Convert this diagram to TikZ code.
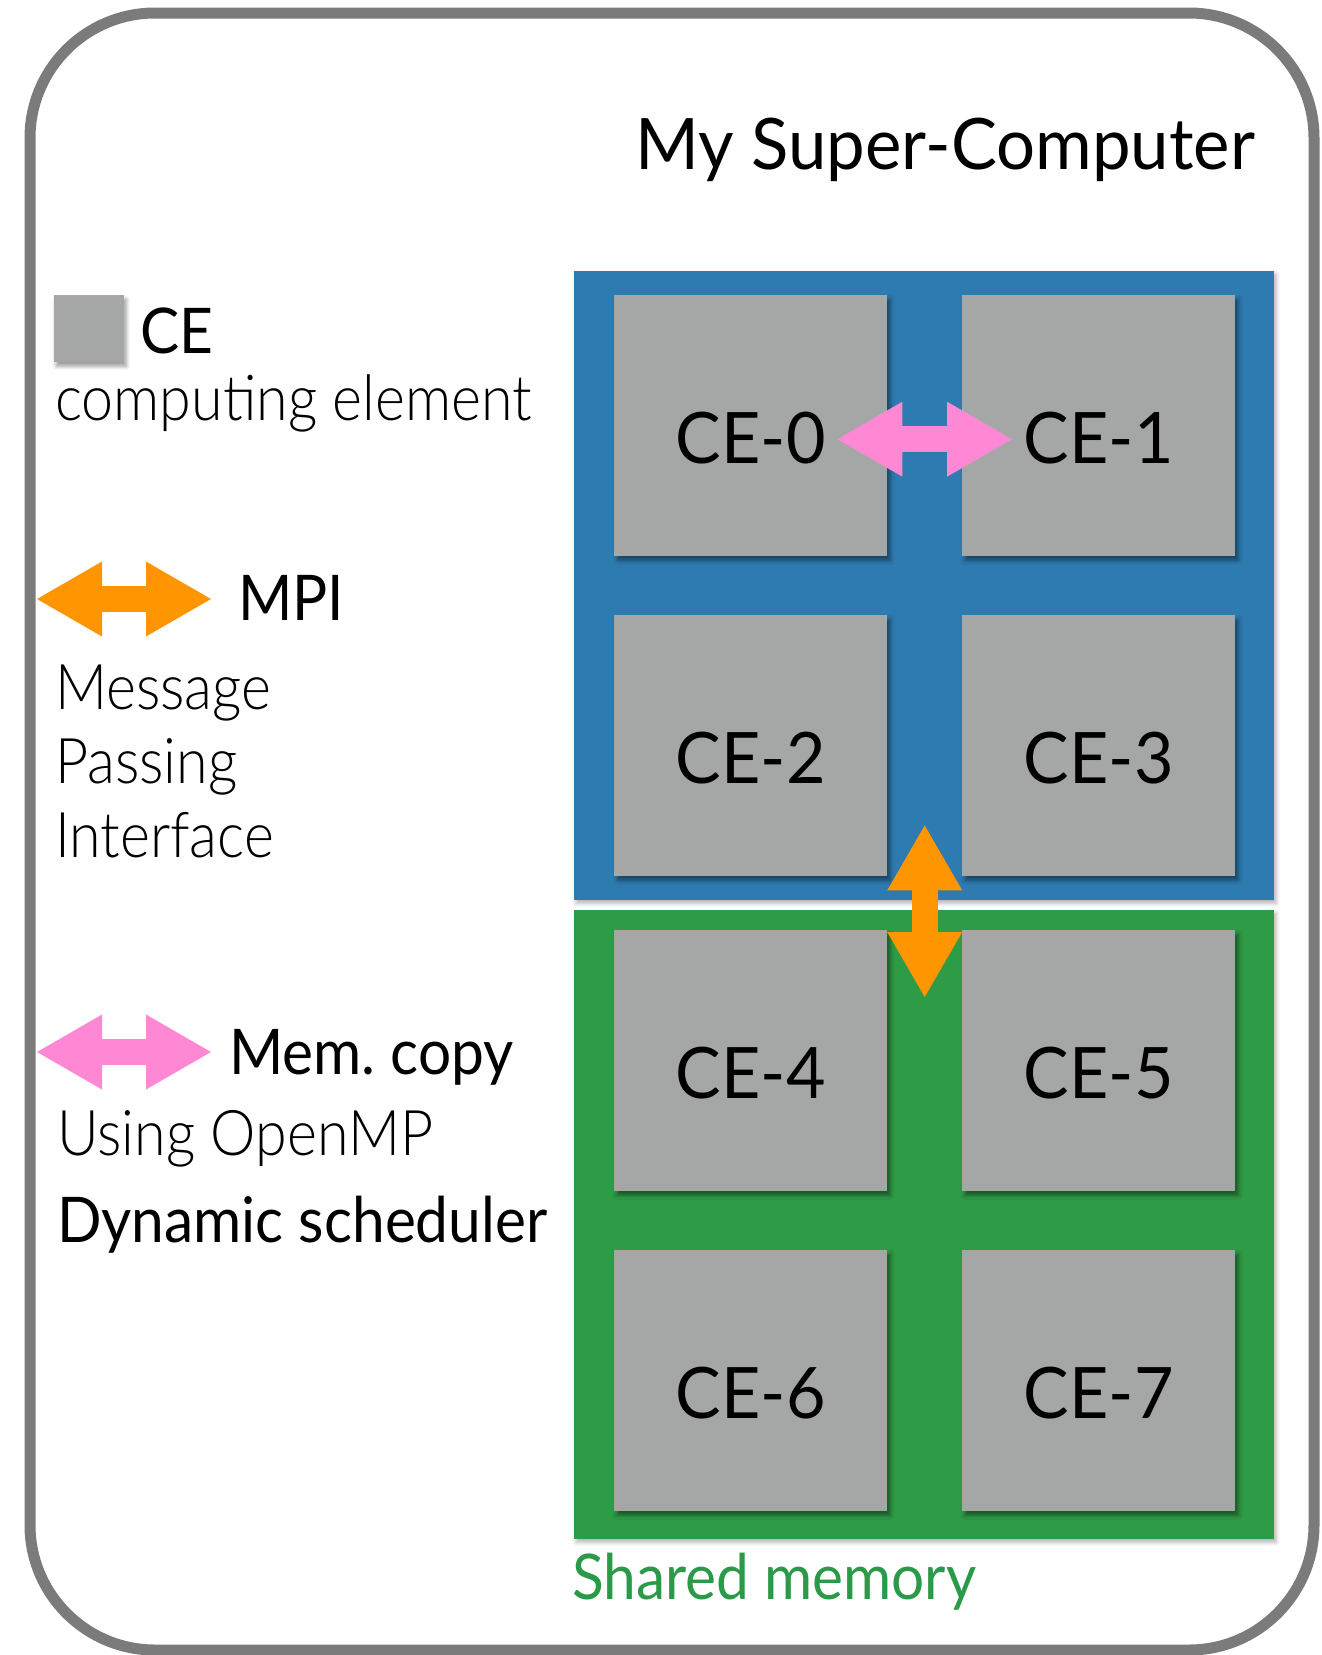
\documentclass[tikz,border=0pt]{standalone}
\usepackage{fontspec}
\setmainfont{Lato}
\newfontfamily\lightfont[FakeStretch=0.91]{Lato Light}
\newfontfamily\regfont[FakeStretch=0.93]{Lato}
\newfontfamily\titlefont[FakeStretch=0.97]{Lato}
\newfontfamily\cefont[FakeStretch=0.96]{Lato}
\usetikzlibrary{arrows.meta,shadows.blur,calc}
\definecolor{frame}{HTML}{7B7B7B}
\definecolor{cegray}{HTML}{A4A7A6}
\definecolor{blueblk}{HTML}{2D7BB0}
\definecolor{greenblk}{HTML}{2E9B46}
\definecolor{smgreen}{HTML}{2A9A48}
\definecolor{mpiorange}{HTML}{FF9500}
\definecolor{mempink}{HTML}{FF88D4}
\tikzset{
  cebox/.style={fill=cegray, draw=none, minimum width=273pt, minimum height=261pt,
    inner sep=0pt, text height=76pt, text depth=0pt,
    font=\fontsize{71pt}{71pt}\cefont,
    blur shadow={shadow xshift=3pt, shadow yshift=-4pt, shadow blur radius=4pt, shadow opacity=45}},
  memblk/.style={draw=none, inner sep=0pt, minimum width=700pt, minimum height=629pt,
    blur shadow={shadow xshift=2pt, shadow yshift=-3pt, shadow blur radius=4pt, shadow opacity=30}},
  dblarrow/.style={line width=26pt,
    {Triangle[length=65pt,width=75pt,line width=0pt]}-{Triangle[length=65pt,width=75pt,line width=0pt]}},
  legtext/.style={anchor=base west, inner sep=0pt, font=\fontsize{63pt}{63pt}\regfont},
  legltext/.style={anchor=base west, inner sep=0pt, font=\fontsize{63pt}{63pt}\lightfont},
}
\begin{document}
\begin{tikzpicture}[x=1pt,y=-1pt]
\useasboundingbox (0,0) rectangle (1322,1655);
% outer frame
\draw[frame, line width=11pt, rounded corners=125pt] (30,13) rectangle (1314,1650);
% title
\node[anchor=base east, inner sep=0pt, font=\fontsize{71pt}{71pt}\titlefont] (title) at (1255,169) {My Super-Computer};
% memory blocks
\node[memblk, fill=blueblk, anchor=north west] (blue) at (574,271) {};
\node[memblk, fill=greenblk, anchor=north west] (green) at (574,910) {};
% CE boxes
\node[cebox, anchor=north west] (ce0) at (614,295) {CE-0};
\node[cebox, anchor=north west] (ce1) at (962,295) {CE-1};
\node[cebox, anchor=north west] (ce2) at (614,615) {CE-2};
\node[cebox, anchor=north west] (ce3) at (962,615) {CE-3};
\node[cebox, anchor=north west] (ce4) at (614,930) {CE-4};
\node[cebox, anchor=north west] (ce5) at (962,930) {CE-5};
\node[cebox, anchor=north west] (ce6) at (614,1250) {CE-6};
\node[cebox, anchor=north west] (ce7) at (962,1250) {CE-7};
% shared memory label
\node[anchor=base west, inner sep=0pt, text=smgreen, font=\fontsize{63pt}{63pt}\regfont] (sm) at (572,1599) {Shared memory};
% arrows between CEs
\coordinate (p0) at ($(ce0.east)+(-50,13.5)$);
\coordinate (p1) at ($(ce1.west)+(50,13.5)$);
\draw[dblarrow, mempink] (p0) -- (p1);
\coordinate (o0) at ($(ce2.south east)!0.5!(ce3.south west)+(0,-51)$);
\coordinate (o1) at ($(ce4.north east)!0.5!(ce5.north west)+(0,67)$);
\draw[dblarrow, mpiorange] (o0) -- (o1);
% legend
\node[fill=cegray, minimum width=70pt, minimum height=67pt, inner sep=0pt, anchor=north west,
  blur shadow={shadow xshift=2pt, shadow yshift=-4pt, shadow blur radius=4pt, shadow opacity=40}] (legce) at (54,295) {};
\node[legtext] (tce) at (140,353) {CE};
\node[legltext] (tcomp) at (55,420) {computing element};
\coordinate (m0) at (37,599);
\coordinate (m1) at (211,599);
\draw[dblarrow, mpiorange] (m0) -- (m1);
\node[legtext] (tmpi) at (238,620) {MPI};
\node[legltext] (tmsg) at (55,709) {Message};
\node[legltext] (tpass) at (55,783) {Passing};
\node[legltext] (tint) at (55,857) {Interface};
\coordinate (k0) at (37,1052);
\coordinate (k1) at (211,1052);
\draw[dblarrow, mempink] (k0) -- (k1);
\node[legtext] (tmem) at (229,1074) {Mem.\ copy};
\node[legltext] (tomp) at (57,1155) {Using OpenMP};
\node[legtext] (tdyn) at (57,1242) {Dynamic scheduler};
\end{tikzpicture}
\end{document}
